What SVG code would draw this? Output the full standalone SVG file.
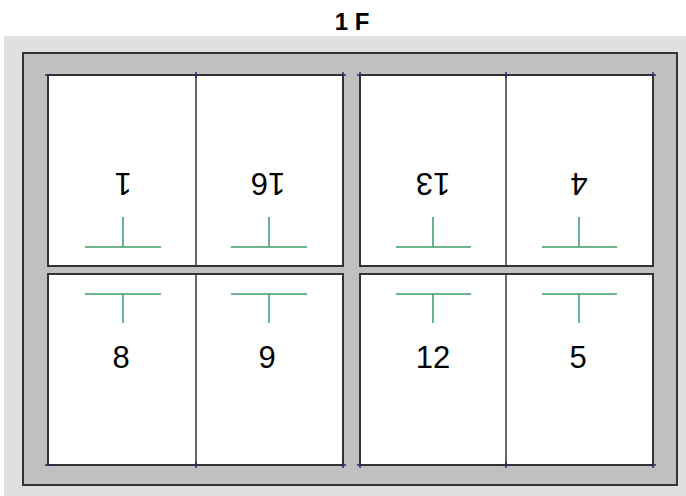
<svg xmlns="http://www.w3.org/2000/svg" width="686" height="496" viewBox="0 0 686 496">
<style>
.lbl{font-family:Arial,"Liberation Sans",Helvetica,sans-serif;font-size:31px;fill:#000;text-anchor:middle}
.title{font-family:Arial,"Liberation Sans",Helvetica,sans-serif;font-size:24px;font-weight:bold;fill:#000;text-anchor:middle}
.panel{fill:#fff;stroke:#333;stroke-width:2}
.div{stroke:#333;stroke-width:1.5}
.t{stroke:#3c9c64;stroke-width:1.5;fill:none}
.mk{stroke:#2a2a66;stroke-width:1.5}
</style>
<rect width="686" height="496" fill="#fff"/>
<text class="title" x="352" y="30">1 F</text>
<g id="frame">
<rect x="4" y="36" width="682" height="460" fill="#e0e0e0"/>
<rect x="23" y="53" width="654" height="432" fill="#c0c0c0" stroke="#333" stroke-width="2"/>
</g>
<g id="panels">
<rect class="panel" x="48" y="75" width="295" height="191"/>
<rect class="panel" x="48" y="274" width="295" height="191"/>
<rect class="panel" x="360" y="75" width="293" height="191"/>
<rect class="panel" x="360" y="274" width="293" height="191"/>
<line class="div" x1="196" y1="75" x2="196" y2="266"/>
<line class="div" x1="196" y1="274" x2="196" y2="465"/>
<line class="div" x1="506" y1="75" x2="506" y2="266"/>
<line class="div" x1="506" y1="274" x2="506" y2="465"/>
</g>
<g id="marks" class="mk">
<path d="M45 75h6M196 72v6M193 75h6M343 72v6M340 75h6M357 75h6M360 72v6M503 75h6M506 72v6M650 75h6M653 72v6M45 465h6M193 465h6M196 462v6M340 465h6M343 462v6M357 465h6M360 462v6M503 465h6M506 462v6M650 465h6M653 462v6"/>
</g>
<g id="connectors">
<path class="t" d="M85 247h76M123 217v30M231 247h76M269 217v30M396 247h75M433 217v30M542 247h75M579 217v30"/>
<path class="t" d="M85 294h76M123 294v29M231 294h76M269 294v29M396 294h75M433 294v29M542 294h75M579 294v29"/>
</g>
<g id="n1"><text class="lbl" transform="translate(123,173) rotate(180)">1</text></g>
<g id="n16"><text class="lbl" transform="translate(268,173) rotate(180)">16</text></g>
<g id="n13"><text class="lbl" transform="translate(433,173) rotate(180)">13</text></g>
<g id="n4"><text class="lbl" transform="translate(579,173) rotate(180)">4</text></g>
<g id="n8"><text class="lbl" x="121" y="368">8</text></g>
<g id="n9"><text class="lbl" x="267" y="368">9</text></g>
<g id="n12"><text class="lbl" x="433" y="368">12</text></g>
<g id="n5"><text class="lbl" x="578" y="368">5</text></g>
</svg>
